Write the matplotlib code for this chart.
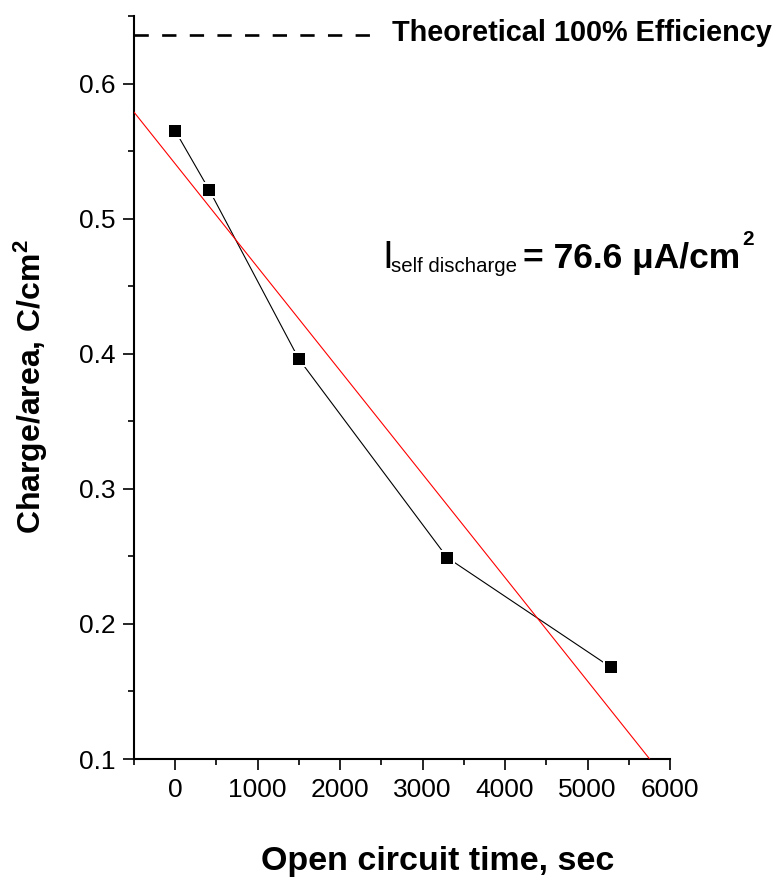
import numpy as np
import matplotlib
matplotlib.use("Agg")
import matplotlib.pyplot as plt
from matplotlib.ticker import MultipleLocator, FormatStrFormatter

plt.rcParams['font.family'] = ['Liberation Sans', 'DejaVu Sans']
plt.rcParams['mathtext.fontset'] = 'custom'
plt.rcParams['mathtext.rm'] = 'Liberation Sans'
plt.rcParams['mathtext.it'] = 'Liberation Sans:italic'
plt.rcParams['mathtext.bf'] = 'Liberation Sans:bold'
plt.rcParams['lines.scale_dashes'] = False

# ---- data ----
time_s = [0, 410, 1500, 3300, 5280]
charge = [0.565, 0.5215, 0.396, 0.249, 0.168]
theoretical = 0.636
theory_x = [-500, 2380]
xticks = [0, 1000, 2000, 3000, 4000, 5000, 6000]
yticks = [0.1, 0.2, 0.3, 0.4, 0.5, 0.6]

W, H = 781, 880
fig = plt.figure(figsize=(W / 100, H / 100), dpi=100)
L, R, B, T = 134, 670, 759, 16
ax = fig.add_axes([L / W, 1 - B / H, (R - L) / W, (B - T) / H])

ax.set_xlim(-500, 6000)
ax.set_ylim(0.1, 0.65)

# theoretical dashed line
ax.plot(theory_x, [theoretical, theoretical], color='black', lw=1.9,
        dashes=(10.3, 9.6), dash_capstyle='butt', zorder=2)

# data line and markers
ax.plot(time_s, charge, color='black', lw=0.8, zorder=2)
ax.plot(time_s, charge, ls='none', marker='s', ms=9.9, mfc='black',
        mec='white', mew=1.44, zorder=2.5)

# linear fit
slope, intercept = np.polyfit(time_s, charge, 1)
fx = np.array([-500, 6000])
ax.plot(fx, slope * fx + intercept, color='red', lw=0.8, zorder=3)

for s in ['top', 'right']:
    ax.spines[s].set_visible(False)
for s in ['left', 'bottom']:
    ax.spines[s].set_linewidth(1.5)

ax.set_xticks(xticks)
ax.set_yticks(yticks)
ax.xaxis.set_minor_locator(MultipleLocator(500))
ax.yaxis.set_minor_locator(MultipleLocator(0.05))
ax.yaxis.set_major_formatter(FormatStrFormatter('%.1f'))
ax.tick_params(which='major', direction='out', length=8, width=1.2,
               labelsize=19, pad=5)
ax.tick_params(which='minor', direction='out', length=4.2, width=1.2)
ax.tick_params(axis='x', which='major', pad=6)

# labels
fig.text(437.5 / W, 1 - 870 / H, 'Open circuit time, sec', fontsize=24.5,
         fontweight='bold', ha='center', va='baseline')
fig.text(31 / W, 1 - 387 / H, r'Charge/area, C/cm$^{\mathbf{2}}$',
         fontsize=23, fontweight='bold', rotation=90, ha='center', va='center')

fig.text(392 / W, 1 - 41 / H, 'Theoretical 100% Efficiency', fontsize=20.8,
         fontweight='bold', ha='left', va='baseline')

# annotation pieces
fig.text(382 / W, 1 - 268 / H, 'I', fontsize=28, ha='left', va='baseline')
fig.text(391 / W, 1 - 272 / H, 'self discharge', fontsize=14.7,
         ha='left', va='baseline')
main = fig.text(523 / W, 1 - 268 / H, '= 76.6 μA/cm', fontsize=25.5,
                fontweight='bold', ha='left', va='baseline')
renderer = fig.canvas.get_renderer()
bb = main.get_window_extent(renderer)
fig.text((bb.x1 + 2) / W, 1 - 245 / H, '2', fontsize=15, fontweight='bold',
         ha='left', va='baseline')

fig.savefig('out.png', dpi=100)
